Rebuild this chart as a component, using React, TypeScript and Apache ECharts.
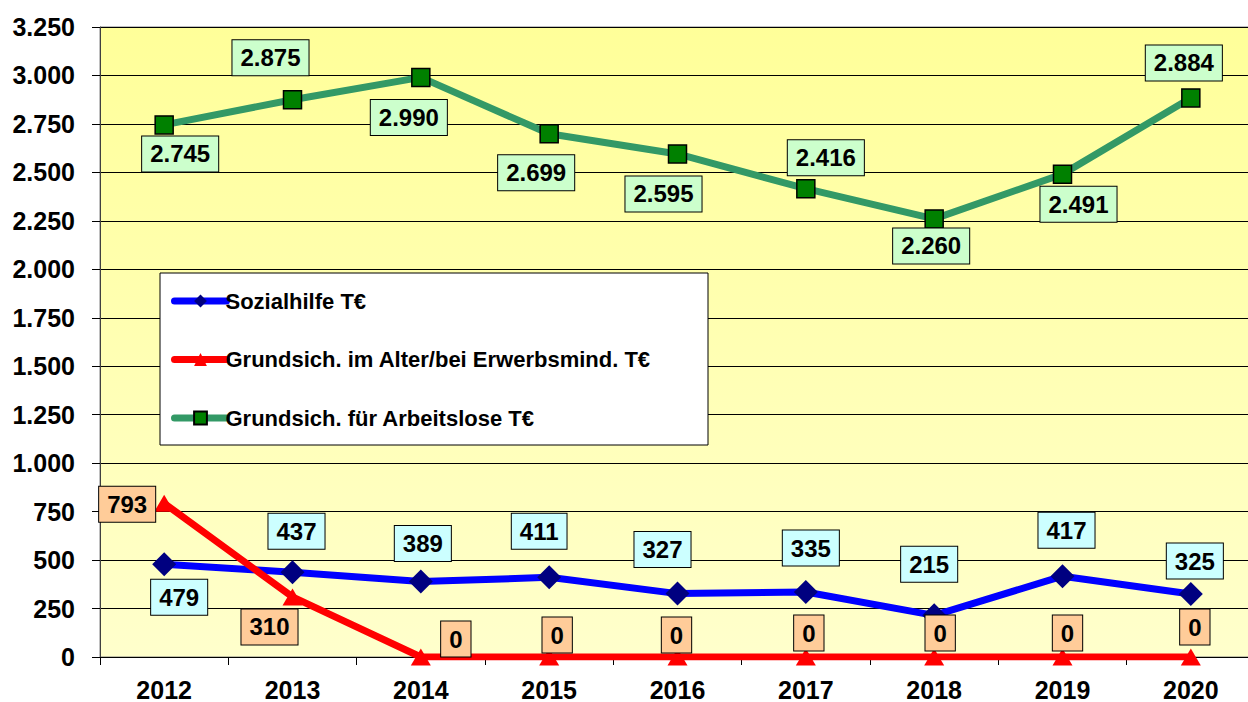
import React, { useEffect, useRef } from "react";
import * as echarts from "echarts";

const years = ["2012", "2013", "2014", "2015", "2016", "2017", "2018", "2019", "2020"];
const sozialhilfe = [479, 437, 389, 411, 327, 335, 215, 417, 325];
const grundsichAlter = [793, 310, 0, 0, 0, 0, 0, 0, 0];
const grundsichArbeitslose = [2745, 2875, 2990, 2699, 2595, 2416, 2260, 2491, 2884];

const blueOffsets = [[15, 33], [4, -41], [2, -38], [-10, -46], [-15, -44], [5, -44], [-5, -51], [4, -46], [4, -33]];
const redOffsets = [[-37, 1], [-23, 30], [35, -18], [8, -22], [-1, -22], [3, -24], [6, -24], [5, -24], [4, -30]];
const greenOffsets = [[16, 29], [-22, -42], [-12, 40], [-13, 39], [-14, 40], [20, -31], [-3, 27], [16, 30], [-7, -35]];

const FONT = "Liberation Sans, Arial, sans-serif";

const fmt = (v: number) => {
  const s = String(Math.round(v));
  return s.replace(/\B(?=(\d{3})+(?!\d))/g, ".");
};

const labelBase = (bg: string) => ({
  show: true,
  position: "inside",
  formatter: (p: any) => fmt(p.value),
  color: "#000",
  fontFamily: FONT,
  fontWeight: "bold",
  fontSize: 24,
  lineHeight: 24,
  backgroundColor: bg,
  borderColor: "#000",
  borderWidth: 1,
  padding: [6, 8, 5, 8],
});

const buildData = (vals: number[], offs: number[][]) =>
  vals.map((v, i) => ({ value: v, label: { offset: offs[i] } }));

export default function App() {
  const ref = useRef<HTMLDivElement>(null);
  useEffect(() => {
    if (!ref.current) return;
    const chart = echarts.init(ref.current, null, { renderer: "svg" });
    chart.setOption({
      animation: false,
      backgroundColor: "#fff",
      grid: {
        left: 100,
        top: 27,
        width: 1155,
        height: 631,
        show: true,
        borderColor: "#808080",
        borderWidth: 1,
        backgroundColor: new echarts.graphic.LinearGradient(0, 0, 0, 1, [
          { offset: 0, color: "#FFFF99" },
          { offset: 1, color: "#FFFFCC" },
        ]),
      },
      graphic: [
        {
          type: "rect",
          shape: { x: 160, y: 273, width: 548, height: 172 },
          style: { fill: "#fff", stroke: "#000", lineWidth: 1 },
          z: 10,
        },
      ],
      legend: {
        left: 166,
        top: 285,
        orient: "vertical",
        itemWidth: 52,
        itemHeight: 16,
        itemGap: 36.5,
        z: 11,
        lineStyle: { width: 7, cap: "round" },
        textStyle: {
          color: "#000",
          fontFamily: FONT,
          fontWeight: "bold",
          fontSize: 22,
          lineHeight: 22,
          padding: [0, 0, 0, -6],
        },
        data: [
          "Sozialhilfe T€",
          "Grundsich. im Alter/bei Erwerbsmind. T€",
          "Grundsich. für Arbeitslose T€",
        ],
      },
      xAxis: {
        type: "category",
        data: years,
        boundaryGap: true,
        axisLine: { show: true, lineStyle: { color: "#000", width: 1 } },
        axisTick: { show: true, length: 8, lineStyle: { color: "#000" } },
        axisLabel: {
          color: "#000",
          fontFamily: FONT,
          fontWeight: "bold",
          fontSize: 25,
          margin: 20,
        },
        splitLine: { show: false },
      },
      yAxis: {
        type: "value",
        min: 0,
        max: 3250,
        interval: 250,
        axisLine: { show: true, lineStyle: { color: "#404040", width: 1 } },
        axisTick: { show: true, length: 8, lineStyle: { color: "#000" } },
        axisLabel: {
          color: "#000",
          fontFamily: FONT,
          fontWeight: "bold",
          fontSize: 25,
          margin: 25,
          formatter: (v: number) => fmt(v),
        },
        splitLine: { show: true, lineStyle: { color: "#000", width: 1 } },
      },
      series: [
        {
          name: "Sozialhilfe T€",
          type: "line",
          data: buildData(sozialhilfe, blueOffsets),
          symbol: "diamond",
          symbolSize: [24, 24],
          lineStyle: { color: "#0000FF", width: 7 },
          itemStyle: { color: "#000080", borderColor: "#000080", borderWidth: 0 },
          label: labelBase("#CCFFFF"),
          z: 3,
        },
        {
          name: "Grundsich. im Alter/bei Erwerbsmind. T€",
          type: "line",
          data: buildData(grundsichAlter, redOffsets),
          symbol: "triangle",
          symbolSize: [20, 17],
          lineStyle: { color: "#FF0000", width: 7 },
          itemStyle: { color: "#FF0000", borderWidth: 0 },
          label: labelBase("#FFCC99"),
          z: 4,
        },
        {
          name: "Grundsich. für Arbeitslose T€",
          type: "line",
          data: buildData(grundsichArbeitslose, greenOffsets),
          symbol: "rect",
          symbolSize: 18,
          lineStyle: { color: "#339966", width: 7 },
          itemStyle: { color: "#008000", borderColor: "#000", borderWidth: 1.5 },
          label: labelBase("#CCFFCC"),
          z: 5,
        },
      ],
    });
    return () => chart.dispose();
  }, []);
  return (
    <div
      ref={ref}
      style={{ position: "fixed", left: 0, top: 0, width: 1260, height: 702 }}
    />
  );
}
